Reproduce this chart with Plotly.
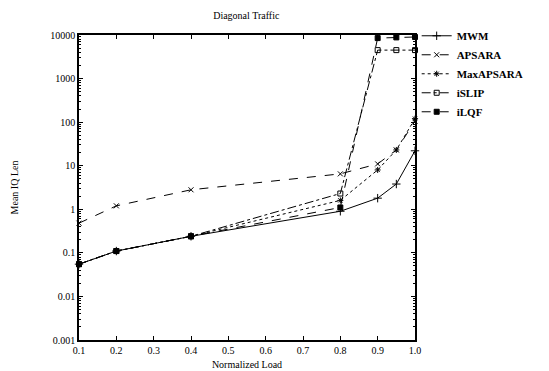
import plotly.graph_objects as go

load = [0.1, 0.2, 0.4, 0.8, 0.9, 0.95, 1.0]
mwm = [0.055, 0.11, 0.24, 0.9, 1.8, 3.8, 22]
apsara = [0.48, 1.2, 2.8, 6.5, 11, 23, 105]
maxapsara = [0.055, 0.11, 0.24, 1.6, 8, 23, 120]
islip = [0.055, 0.11, 0.24, 2.3, 4500, 4500, 4500]
ilqf = [0.055, 0.11, 0.24, 1.1, 8500, 8800, 9000]

x_ticks = [0.1, 0.2, 0.3, 0.4, 0.5, 0.6, 0.7, 0.8, 0.9, 1.0]
x_ticktext = ["0.1", "0.2", "0.3", "0.4", "0.5", "0.6", "0.7", "0.8", "0.9", "1.0"]
y_ticks = [0.001, 0.01, 0.1, 1, 10, 100, 1000, 10000]
y_ticktext = ["0.001", "0.01", "0.1", "1", "10", "100", "1000", "10000"]
y_minor = [m * d for d in [0.001, 0.01, 0.1, 1, 10, 100, 1000] for m in range(2, 10)]

series = [
    ("MWM", mwm, "solid", "cross-thin-open", 6),
    ("APSARA", apsara, "dash", "x-thin-open", 5),
    ("MaxAPSARA", maxapsara, "dot", "asterisk-open", 5),
    ("iSLIP", islip, "dashdot", "square-open", 5),
    ("iLQF", ilqf, "dash", "square", 5),
]

FONT = "Liberation Serif"
fig = go.Figure()
for name, vals, dash, sym, size in series:
    fig.add_trace(go.Scatter(
        x=load, y=vals, name="<b>" + name + "</b>", mode="lines+markers",
        line=dict(color="black", width=1, dash=dash),
        marker=dict(symbol=sym, size=size, color="black", line=dict(color="black", width=1)),
        cliponaxis=False,
    ))

fig.update_layout(
    width=549, height=371,
    margin=dict(l=71, r=142, t=27, b=39),
    paper_bgcolor="white", plot_bgcolor="white",
    font=dict(family=FONT, size=10, color="black"),
    title=dict(text="Diagonal Traffic", x=0.434, xanchor="center", y=0.99, yanchor="top",
               font=dict(family=FONT, size=10, color="black")),
    legend=dict(x=1.005, y=1.045, xanchor="left", yanchor="top",
                font=dict(family=FONT, size=11, color="black"),
                bgcolor="rgba(0,0,0,0)", itemwidth=30, tracegroupgap=0),
    showlegend=True,
)
fig.update_xaxes(
    range=[0.1, 1.0], tickvals=x_ticks, ticktext=x_ticktext,
    ticks="inside", ticklen=4, tickcolor="black", mirror="ticks",
    showline=True, linecolor="black", linewidth=1.5, showgrid=False, zeroline=False,
    title=dict(text="Normalized Load", standoff=6, font=dict(family=FONT, size=10)),
    tickfont=dict(family=FONT, size=10), automargin=False,
)
fig.update_yaxes(
    type="log", range=[-3, 4], tickvals=y_ticks, ticktext=y_ticktext,
    ticks="inside", ticklen=4, tickcolor="black", mirror="ticks",
    showline=True, linecolor="black", linewidth=1.5, showgrid=False, zeroline=False,
    minor=dict(tickmode="array", tickvals=y_minor, ticks="inside", ticklen=2,
               tickcolor="black", showgrid=False),
    title=dict(text="Mean IQ Len", standoff=30, font=dict(family=FONT, size=10)),
    tickfont=dict(family=FONT, size=10), automargin=False,
)

fig.write_html("out.html")
